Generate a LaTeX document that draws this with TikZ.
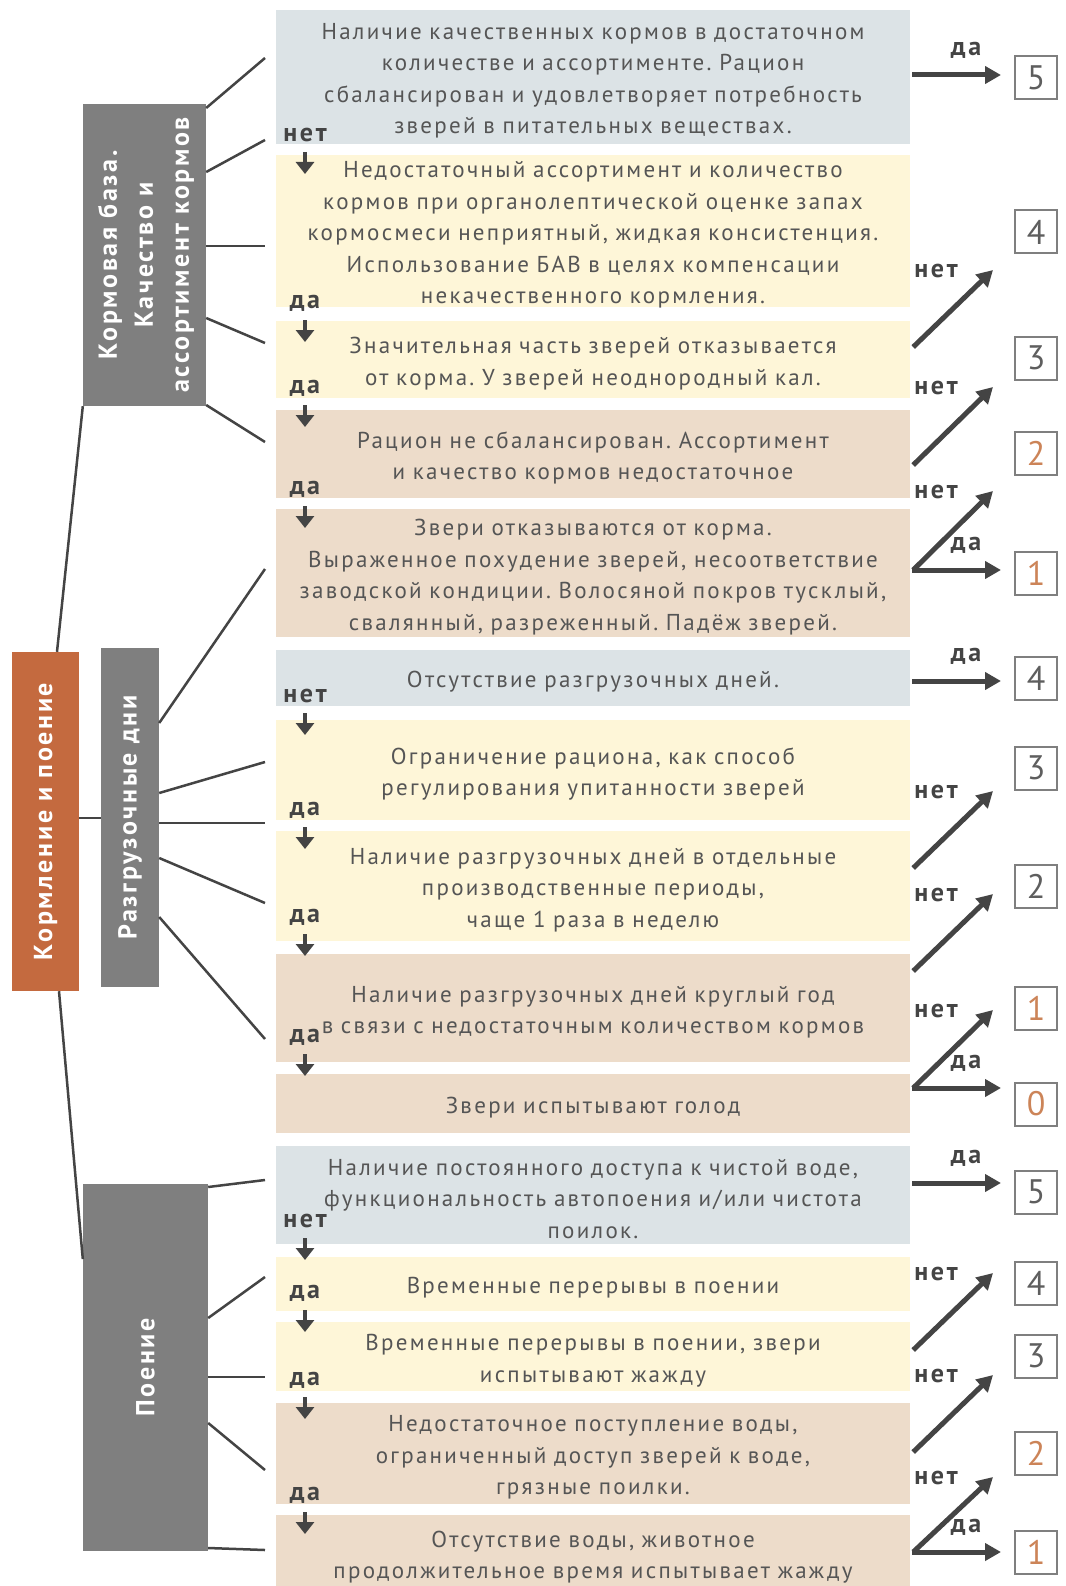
\documentclass[tikz,border=0pt]{standalone}
\usepackage{fontspec}
\setmainfont{PT Sans}[LetterSpace=10]
\newfontfamily\numf{PT Sans}
\usetikzlibrary{arrows.meta}
\definecolor{cblue}{HTML}{DCE3E6}
\definecolor{cyel}{HTML}{FEF6D8}
\definecolor{cbei}{HTML}{EDDCCA}
\definecolor{corg}{HTML}{C46A3F}
\definecolor{cgry}{HTML}{7F7F7F}
\definecolor{ctxt}{HTML}{555555}
\definecolor{cdark}{HTML}{444444}
\definecolor{cnum}{HTML}{CC8458}
\definecolor{cnumg}{HTML}{5E5E5E}
\frenchspacing
\newcommand\cbox[5]{%
  \node[cb=#3, fill=#4] (#1) at (593,#2) {};
  \node[ct] (#1t) at ([yshift=-4pt]#1.center) {#5};}
\begin{document}
\begin{tikzpicture}[x=1pt,y=-1pt,
  cb/.style={minimum width=634pt, minimum height=#1, inner sep=0pt},
  ct/.style={inner sep=0pt, text width=620pt, align=center, font=\fontsize{23}{31.5}\selectfont, text=ctxt},
  catbox/.style={fill=#1, inner sep=0pt},
  rot/.style={rotate=90, text=white, align=center, font=\bfseries\fontsize{26}{36}\selectfont},
  fan/.style={draw=cdark, line width=2.5pt},
  lab/.style={font=\bfseries\fontsize{26}{28}\selectfont, text=cdark, inner sep=0pt},
  dn/.style={draw=cdark, line width=4pt, -{Triangle[length=12pt,width=18pt]}},
  ra/.style={draw=cdark, line width=5pt, -{Triangle[length=16pt,width=17pt]}},
  score/.style={draw=cgry, line width=2pt, minimum width=42pt, minimum height=43pt, inner sep=0pt,
    font=\numf\fontsize{34}{34}\selectfont, text=#1},
]
\fill[white] (0,0) rectangle (1065,1586);
\path[use as bounding box] (0,0) rectangle (1065,1586);

% content boxes
\cbox{b1}{77}{134pt}{cblue}{Наличие качественных кормов в достаточном\\ количестве и ассортименте. Рацион\\ сбалансирован и удовлетворяет потребность\\ зверей в питательных веществах.}
\cbox{b2}{231}{152pt}{cyel}{Недостаточный ассортимент и количество\\ кормов при органолептической оценке запах\\ кормосмеси неприятный, жидкая консистенция.\\ Использование БАВ в целях компенсации\\ некачественного кормления.}
\cbox{b3}{359.5}{77pt}{cyel}{Значительная часть зверей отказывается\\ от корма. У зверей неоднородный кал.}
\cbox{b4}{454}{88pt}{cbei}{Рацион не сбалансирован. Ассортимент\\ и качество кормов недостаточное}
\cbox{b5}{573}{128pt}{cbei}{Звери отказываются от корма.\\ Выраженное похудение зверей, несоответствие\\ заводской кондиции. Волосяной покров тусклый,\\ свалянный, разреженный. Падёж зверей.}
\cbox{b6}{678}{56pt}{cblue}{Отсутствие разгрузочных дней.}
\cbox{b7}{770}{100pt}{cyel}{Ограничение рациона, как способ\\ регулирования упитанности зверей}
\cbox{b8}{886}{110pt}{cyel}{Наличие разгрузочных дней в отдельные\\ производственные периоды,\\ чаще 1 раза в неделю}
\cbox{b9}{1008}{108pt}{cbei}{Наличие разгрузочных дней круглый год\\ в связи с недостаточным количеством кормов}
\cbox{b10}{1103.5}{59pt}{cbei}{Звери испытывают голод}
\cbox{b11}{1195}{98pt}{cblue}{Наличие постоянного доступа к чистой воде,\\ функциональность автопоения и/или чистота\\ поилок.}
\cbox{b12}{1284}{54pt}{cyel}{Временные перерывы в поении}
\cbox{b13}{1356.5}{69pt}{cyel}{Временные перерывы в поении, звери\\ испытывают жажду}
\cbox{b14}{1453.5}{101pt}{cbei}{Недостаточное поступление воды,\\ ограниченный доступ зверей к воде,\\ грязные поилки.}
\cbox{b15}{1553}{76pt}{cbei}{Отсутствие воды, животное\\ продолжительное время испытывает жажду}

% category boxes
\node[catbox=corg, minimum width=67pt, minimum height=339pt] (kp) at (45.5,821.5) {};
\node[rot] at (kp.center) {Кормление и поение};
\node[catbox=cgry, minimum width=123pt, minimum height=302pt] (kb) at (144.5,255) {};
\node[rot] at (146,255) {Кормовая база.\\ Качество и\\ ассортимент кормов};
\node[catbox=cgry, minimum width=58pt, minimum height=339pt] (rd) at (130,817.5) {};
\node[rot] at (rd.center) {Разгрузочные дни};
\node[catbox=cgry, minimum width=125pt, minimum height=367pt] (po) at (145.5,1367.5) {};
\node[rot] at (po.center) {Поение};

% main connectors
\draw[fan] (kp.north -| 57,0) -- (kb.south west);
\draw[fan] (kp.south -| 59,0) -- (po.west |- 0,1259);
\draw[fan] (kp.east |- 0,818) -- (rd.west |- 0,818);

% fans
\foreach \i/\ys/\ye in {1/108/58, 2/172/140, 3/246/246, 4/318/343, 5/405/442}{
  \coordinate (kf\i) at (265,\ye);
  \draw[fan] (kb.east |- 0,\ys) -- (kf\i);
}
\foreach \i/\ys/\ye in {1/723/569, 2/793/762, 3/823/823, 4/858/903, 5/917/1039}{
  \coordinate (rf\i) at (265,\ye);
  \draw[fan] (rd.east |- 0,\ys) -- (rf\i);
}
\foreach \i/\ys/\ye in {1/1187/1180, 2/1318/1277, 3/1377/1377, 4/1423/1470, 5/1548/1550}{
  \coordinate (pf\i) at (265,\ye);
  \draw[fan] (po.east |- 0,\ys) -- (pf\i);
}

% down arrows with labels
\foreach \i/\t/\y in {1/нет/135, 2/да/303, 3/да/388, 4/да/489, 5/нет/696, 6/да/810, 7/да/917, 8/да/1037, 9/нет/1221, 10/да/1293, 11/да/1380, 12/да/1495}{
  \node[lab] (dl\i) at (305,\y) {\t};
  \draw[dn] ([yshift=-17pt]dl\i.center) -- ++(0,22);
}

% score boxes
\node[score=cnumg] (s1) at (1036,78) {5};
\node[score=cnumg] (s2) at (1036,232) {4};
\node[score=cnumg] (s3) at (1036,358) {3};
\node[score=cnum] (s4) at (1036,453) {2};
\node[score=cnum] (s5) at (1036,573) {1};
\node[score=cnumg] (s6) at (1036,678) {4};
\node[score=cnumg] (s7) at (1036,768) {3};
\node[score=cnumg] (s8) at (1036,886) {2};
\node[score=cnum] (s9) at (1036,1008) {1};
\node[score=cnum] (s10) at (1036,1104) {0};
\node[score=cnumg] (s11) at (1036,1192) {5};
\node[score=cnumg] (s12) at (1036,1283) {4};
\node[score=cnumg] (s13) at (1036,1356) {3};
\node[score=cnum] (s14) at (1036,1453) {2};
\node[score=cnum] (s15) at (1036,1552) {1};

% horizontal "да" arrows
\foreach \b/\s/\y in {b1/s1/75, b5/s5/570, b6/s6/681, b10/s10/1088, b11/s11/1183, b15/s15/1552}{
  \draw[ra] ([xshift=2pt]\b.east |- 0,\y) -- ([xshift=-13pt]\s.west |- 0,\y);
  \node[lab] at (966,\y-25) {да};
}
% diagonal "нет" arrows
\foreach \b/\s/\ty/\hy in {b3/s2/347/270, b4/s3/465/387, b5/s4/570/491, b8/s7/868/791, b9/s8/971/894, b10/s9/1088/1010, b13/s12/1350/1273, b14/s13/1452/1375, b15/s14/1552/1477}{
  \coordinate (h\s) at (993,\hy);
  \draw[ra] ([xshift=3pt]\b.east |- 0,\ty) -- (h\s);
  \node[lab] at (936,\hy+1) {нет};
}
\end{tikzpicture}
\end{document}
